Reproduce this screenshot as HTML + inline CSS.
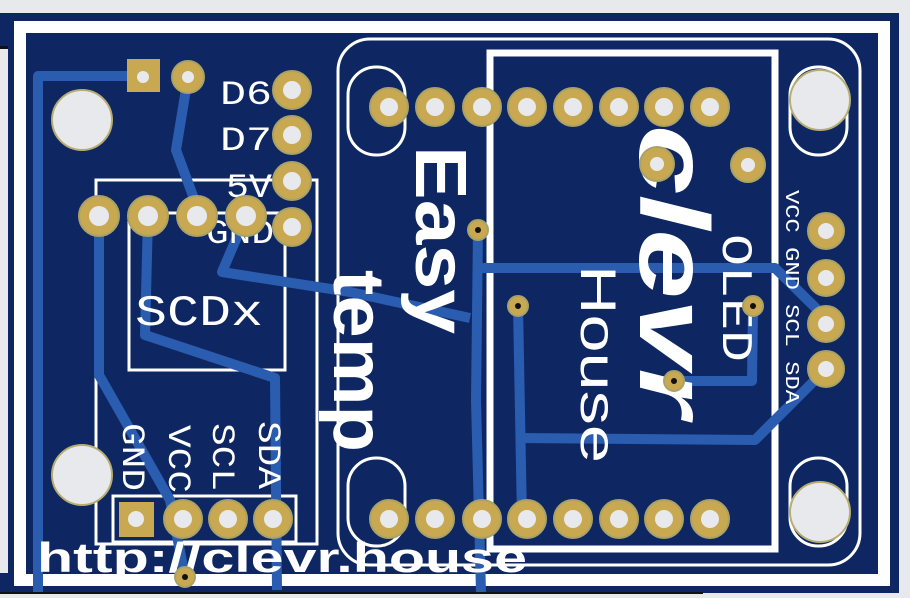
<!DOCTYPE html>
<html><head><style>
html,body{margin:0;padding:0;background:#e8e9ed;}
svg{display:block}
text{fill:#fff;font-family:"Liberation Sans",sans-serif}
.m{font-family:"Liberation Mono",monospace}
</style></head><body>
<svg width="910" height="598" viewBox="0 0 910 598" xmlns="http://www.w3.org/2000/svg">
<rect width="910" height="598" fill="#e8e9ed"/>
<rect x="0" y="13" width="899" height="580" fill="#0e2762"/>
<rect x="0" y="47" width="8" height="526" fill="#e8e9ed"/>
<rect x="0" y="46" width="8" height="3" fill="#111"/>
<rect x="0" y="593" width="703" height="5" fill="#e8e9ed"/>
<rect x="0" y="592" width="703" height="2" fill="#111"/>
<!-- outlines -->
<rect x="20" y="27" width="864" height="553" fill="none" stroke="#fff" stroke-width="12"/>
<rect x="338" y="39" width="522" height="526" rx="32" fill="none" stroke="#fff" stroke-width="3"/>
<rect x="490" y="53" width="285" height="496" fill="none" stroke="#fff" stroke-width="7"/>
<rect x="96" y="180" width="221" height="364" fill="none" stroke="#fff" stroke-width="3"/>
<rect x="129" y="213" width="156" height="157" fill="none" stroke="#fff" stroke-width="3"/>
<rect x="113" y="496" width="183" height="46" fill="none" stroke="#fff" stroke-width="3"/>
<rect x="348" y="67" width="57" height="88" rx="28" fill="none" stroke="#fff" stroke-width="3"/>
<rect x="790" y="67" width="57" height="88" rx="28" fill="none" stroke="#fff" stroke-width="3"/>
<rect x="348" y="458" width="57" height="88" rx="28" fill="none" stroke="#fff" stroke-width="3"/>
<rect x="790" y="458" width="57" height="88" rx="28" fill="none" stroke="#fff" stroke-width="3"/>
<!-- traces -->
<g fill="none" stroke="#2a5db0" stroke-width="10" stroke-linejoin="round">
<polyline points="143,76 38,76 38,592"/>
<polyline points="188,77 176,150 193,196 197,216"/>
<polyline points="246,216 222,272 350,292 470,318"/>
<polyline points="478,230 476,400 481,592"/>
<polyline points="478,268 775,268 826,318"/>
<polyline points="826,369 755,440 520,438"/>
<polyline points="518,306 522,519"/>
<polyline points="753,306 752,381 674,381"/>
<polyline points="148,216 145,335 275,378 277,590"/>
<polyline points="99,216 99,375 170,500 185,577"/>
</g>
<!-- labels -->
<text class="m" x="220" y="104" font-size="34" textLength="52" lengthAdjust="spacingAndGlyphs">D6</text>
<text class="m" x="220" y="150" font-size="34" textLength="52" lengthAdjust="spacingAndGlyphs">D7</text>
<text class="m" x="226" y="197" font-size="34" textLength="46" lengthAdjust="spacingAndGlyphs">5V</text>
<text class="m" x="206" y="243" font-size="34" textLength="68" lengthAdjust="spacingAndGlyphs">GND</text>
<text class="m" x="135" y="325" font-size="44" textLength="128" lengthAdjust="spacingAndGlyphs">SCDx</text>
<text class="m" transform="translate(123,423) rotate(90)" font-size="32" textLength="68" lengthAdjust="spacingAndGlyphs">GND</text>
<text class="m" transform="translate(169,425) rotate(90)" font-size="32" textLength="68" lengthAdjust="spacingAndGlyphs">VCC</text>
<text class="m" transform="translate(213,423) rotate(90)" font-size="32" textLength="68" lengthAdjust="spacingAndGlyphs">SCL</text>
<text class="m" transform="translate(259,421) rotate(90)" font-size="32" textLength="68" lengthAdjust="spacingAndGlyphs">SDA</text>
<text class="m" transform="translate(786,190) rotate(90)" font-size="19" textLength="214" lengthAdjust="spacingAndGlyphs">VCC GND SCL SDA</text>
<text transform="translate(416,146) rotate(90)" font-size="72" font-weight="bold" textLength="188" lengthAdjust="spacingAndGlyphs">Easy</text>
<text transform="translate(334,270) rotate(90)" font-size="72" font-weight="bold" textLength="182" lengthAdjust="spacingAndGlyphs">temp</text>
<text transform="translate(640,125) rotate(90)" font-size="98" font-weight="bold" font-style="italic" textLength="292" lengthAdjust="spacingAndGlyphs">clevr</text>
<text transform="translate(581,265) rotate(90)" font-size="50" textLength="198" lengthAdjust="spacingAndGlyphs">House</text>
<text class="m" transform="translate(723,234) rotate(90)" font-size="44" textLength="128" lengthAdjust="spacingAndGlyphs">OLED</text>
<text x="37" y="572" font-size="42" font-weight="bold" textLength="490" lengthAdjust="spacingAndGlyphs">http://clevr.house</text>
<!-- mounting holes -->
<g fill="#e8e9ed" stroke="#b8ad70" stroke-width="2">
<circle cx="82" cy="120" r="30"/><circle cx="82" cy="475" r="30"/>
<circle cx="820" cy="100" r="30"/><circle cx="820" cy="512" r="30"/>
</g>
<!-- pads -->
<rect x="127" y="59" width="33" height="33" fill="#c8a851"/>
<rect x="119" y="502" width="35" height="35" fill="#c8a851"/>
<g fill="#c8a851" stroke="#a9a268" stroke-width="2">
<circle cx="188" cy="77" r="16"/>
<circle cx="292" cy="90" r="19"/><circle cx="292" cy="135" r="19"/><circle cx="292" cy="181" r="19"/><circle cx="292" cy="227" r="19"/>
<circle cx="99" cy="216" r="20"/><circle cx="148" cy="216" r="20"/><circle cx="197" cy="216" r="20"/><circle cx="246" cy="216" r="20"/>
<circle cx="389" cy="107" r="19"/><circle cx="435" cy="107" r="19"/><circle cx="482" cy="107" r="19"/><circle cx="527" cy="107" r="19"/><circle cx="573" cy="107" r="19"/><circle cx="619" cy="107" r="19"/><circle cx="664" cy="107" r="19"/><circle cx="710" cy="107" r="19"/>
<circle cx="389" cy="519" r="19"/><circle cx="435" cy="519" r="19"/><circle cx="482" cy="519" r="19"/><circle cx="527" cy="519" r="19"/><circle cx="573" cy="519" r="19"/><circle cx="619" cy="519" r="19"/><circle cx="664" cy="519" r="19"/><circle cx="710" cy="519" r="19"/>
<circle cx="183" cy="519" r="19"/><circle cx="228" cy="519" r="19"/><circle cx="273" cy="519" r="19"/>
<circle cx="826" cy="231" r="18"/><circle cx="826" cy="278" r="18"/><circle cx="826" cy="324" r="18"/><circle cx="826" cy="369" r="18"/>
<circle cx="657" cy="164" r="17"/><circle cx="748" cy="165" r="17"/>
<circle cx="478" cy="230" r="10"/><circle cx="518" cy="306" r="10"/><circle cx="674" cy="381" r="10"/><circle cx="753" cy="306" r="10"/><circle cx="185" cy="577" r="10"/>
</g>
<g fill="#e8e9ed">
<circle cx="143" cy="77" r="6"/><circle cx="188" cy="77" r="6"/><circle cx="136" cy="519" r="8"/>
<circle cx="292" cy="90" r="9"/><circle cx="292" cy="135" r="9"/><circle cx="292" cy="181" r="9"/><circle cx="292" cy="227" r="9"/>
<circle cx="99" cy="216" r="10"/><circle cx="148" cy="216" r="10"/><circle cx="197" cy="216" r="10"/><circle cx="246" cy="216" r="10"/>
<circle cx="389" cy="107" r="9"/><circle cx="435" cy="107" r="9"/><circle cx="482" cy="107" r="9"/><circle cx="527" cy="107" r="9"/><circle cx="573" cy="107" r="9"/><circle cx="619" cy="107" r="9"/><circle cx="664" cy="107" r="9"/><circle cx="710" cy="107" r="9"/>
<circle cx="389" cy="519" r="9"/><circle cx="435" cy="519" r="9"/><circle cx="482" cy="519" r="9"/><circle cx="527" cy="519" r="9"/><circle cx="573" cy="519" r="9"/><circle cx="619" cy="519" r="9"/><circle cx="664" cy="519" r="9"/><circle cx="710" cy="519" r="9"/>
<circle cx="183" cy="519" r="9"/><circle cx="228" cy="519" r="9"/><circle cx="273" cy="519" r="9"/>
<circle cx="826" cy="231" r="8"/><circle cx="826" cy="278" r="8"/><circle cx="826" cy="324" r="8"/><circle cx="826" cy="369" r="8"/>
<circle cx="657" cy="164" r="7"/><circle cx="748" cy="165" r="7"/>
</g>
<g fill="#111">
<circle cx="478" cy="230" r="3"/><circle cx="518" cy="306" r="3"/><circle cx="674" cy="381" r="3"/><circle cx="753" cy="306" r="3"/><circle cx="185" cy="577" r="3"/>
</g>
</svg>
</body></html>
